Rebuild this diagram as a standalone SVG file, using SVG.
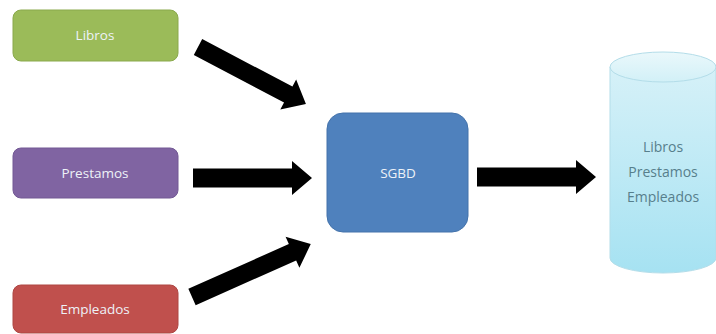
<svg xmlns="http://www.w3.org/2000/svg" width="716" height="334" viewBox="0 0 716 334">
  <defs>
    <linearGradient id="dbFill" x1="0" y1="0" x2="0" y2="1">
      <stop offset="0" stop-color="#d6f1f8"/>
      <stop offset="1" stop-color="#a6e2f2"/>
    </linearGradient>
    <linearGradient id="dbTop" x1="0" y1="0" x2="0" y2="1">
      <stop offset="0" stop-color="#eaf8fb"/>
      <stop offset="1" stop-color="#d2f0f7"/>
    </linearGradient>
    <style>
      .box text { font-family: "Open Sans", "Liberation Sans", sans-serif; font-size: 13.5px; fill: #eef2f8; text-anchor: middle; }
      .db text { font-family: "Open Sans", "Liberation Sans", sans-serif; font-size: 14px; fill: #577f8c; text-anchor: middle; }
      .arrow { fill: #000; }
    </style>
  </defs>
  <rect width="716" height="334" fill="#ffffff"/>

  <!-- source tables -->
  <g id="libros" class="box">
    <rect x="13" y="10" width="165" height="51" rx="8" fill="#9bbb59" stroke="#8aa94c" stroke-width="1"/>
    <text x="95" y="40">Libros</text>
  </g>
  <g id="prestamos" class="box">
    <rect x="13" y="148" width="165" height="50" rx="8" fill="#8064a2" stroke="#725894" stroke-width="1"/>
    <text x="95" y="178">Prestamos</text>
  </g>
  <g id="empleados" class="box">
    <rect x="13" y="285" width="165" height="48" rx="8" fill="#c0504d" stroke="#ae4643" stroke-width="1"/>
    <text x="95" y="314">Empleados</text>
  </g>

  <!-- database management system -->
  <g id="sgbd" class="box">
    <rect x="327" y="113" width="141" height="119" rx="16" fill="#4f81bd" stroke="#4473ab" stroke-width="1"/>
    <text x="398" y="178">SGBD</text>
  </g>

  <!-- database cylinder -->
  <g id="database" class="db">
    <path d="M610,67 L610,258 A53,15 0 0 0 716,258 L716,67 Z" fill="url(#dbFill)" stroke="#b3dde9" stroke-width="1"/>
    <ellipse cx="663" cy="67" rx="53" ry="15" fill="url(#dbTop)" stroke="#b3dde9" stroke-width="1"/>
    <text x="663" y="152">Libros</text>
    <text x="663" y="177">Prestamos</text>
    <text x="663" y="202">Empleados</text>
  </g>

  <!-- connectors -->
  <g id="connectors" class="arrow">
    <polygon transform="translate(198,47) rotate(27.8)" points="0,-9 102,-9 102,-17 122,0 102,17 102,9 0,9"/>
    <polygon transform="translate(193,178)" points="0,-9.5 99,-9.5 99,-17 119,0 99,17 99,9.5 0,9.5"/>
    <polygon transform="translate(192,297) rotate(-24)" points="0,-9 110,-9 110,-17 130,0 110,17 110,9 0,9"/>
    <polygon transform="translate(477,177)" points="0,-9.5 99,-9.5 99,-17 119,0 99,17 99,9.5 0,9.5"/>
  </g>
</svg>
